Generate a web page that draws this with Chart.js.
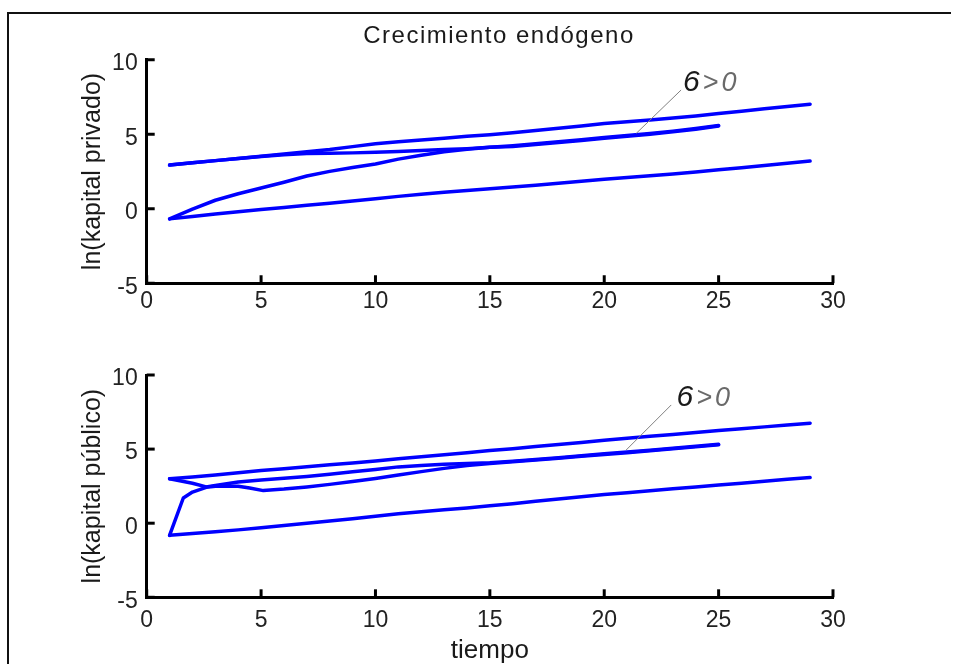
<!DOCTYPE html>
<html><head><meta charset="utf-8">
<script src="https://cdn.jsdelivr.net/npm/chart.js@4.4.1/dist/chart.umd.min.js"></script>
<style>
html,body{margin:0;padding:0;background:#fff;}
#wrap{position:relative;width:964px;height:664px;overflow:hidden;background:#fff;}
#frame{position:absolute;left:7px;top:12px;width:944px;height:700px;border-top:2px solid #111;border-left:2px solid #111;box-sizing:border-box;}
canvas{position:absolute;left:0;}
#c1{top:0}
#c2{top:332px}
</style></head><body>
<div id="wrap"><div id="frame"></div><canvas id="c1" width="964" height="332"></canvas><canvas id="c2" width="964" height="332"></canvas></div>
<script>
// ---- text ----
const figureTitle = 'Crecimiento endógeno';
const xAxisLabel = 'tiempo';
const yLabelTop = 'ln(kapital privado)';
const yLabelBottom = 'ln(kapital público)';
const annotationParts = ['6', '>0'];

// ---- axes ----
const xMin = 0, xMax = 30, xStep = 5;
const yMin = -5, yMax = 10, yStep = 5;

// ---- data: top panel (kapital privado) ----
const tA = [1,2,3,4,5,6,7,8,9,10,11,12,13,14,15,16,17,18,19,20,21,22,23,24,25,26,27,28,29];
const privA = [2.93,3.08,3.23,3.38,3.53,3.67,3.82,3.97,4.17,4.36,4.49,4.61,4.73,4.86,4.97,5.10,5.25,5.40,5.56,5.72,5.84,5.96,6.09,6.23,6.40,6.55,6.71,6.87,7.02];
const tB = [1,2,3,4,5,6,7,8,9,10,11,12,13,14,15,16,17,18,19,20,21,22,23,24,25];
const privB = [2.93,3.08,3.23,3.38,3.51,3.63,3.71,3.73,3.75,3.79,3.84,3.91,3.97,4.03,4.12,4.23,4.36,4.49,4.63,4.78,4.91,5.05,5.21,5.39,5.59];
const tC = [1,2,3,4,5,6,7,8,9,10,11,12,13,14,15,16,17,18,19,20,21,22,23,24,25];
const privC = [-0.68,-0.02,0.57,1.01,1.39,1.78,2.20,2.51,2.77,3.00,3.33,3.59,3.82,3.99,4.12,4.18,4.31,4.44,4.58,4.73,4.86,5.00,5.16,5.34,5.55];
const tD = [1,2,3,4,5,6,7,8,9,10,11,12,13,14,15,16,17,18,19,20,21,22,23,24,25,26,27,28,29];
const privD = [-0.68,-0.52,-0.36,-0.20,-0.05,0.09,0.23,0.37,0.52,0.67,0.83,0.97,1.10,1.22,1.34,1.46,1.58,1.71,1.85,1.98,2.10,2.22,2.34,2.47,2.61,2.75,2.90,3.05,3.20];

// ---- data: bottom panel (kapital público) ----
const uA = [1,2,3,4,5,6,7,8,9,10,11,12,13,14,15,16,17,18,19,20,21,22,23,24,25,26,27,28,29];
const pubA = [3.00,3.12,3.25,3.40,3.55,3.68,3.81,3.94,4.07,4.20,4.35,4.48,4.62,4.76,4.90,5.03,5.17,5.31,5.45,5.60,5.73,5.86,5.99,6.12,6.25,6.37,6.50,6.62,6.75];
const uB = [1,2,2.6,3,4,5,6,7,8,9,10,11,12,13,14,15,16,17,18,19,20,21,22,23,24,25];
const pubB = [3.00,2.70,2.45,2.55,2.78,2.92,3.03,3.15,3.30,3.47,3.63,3.80,3.90,3.97,4.02,4.08,4.18,4.30,4.42,4.55,4.68,4.80,4.93,5.06,5.19,5.32];
const uC = [1,1.6,2,2.6,3,4,4.5,5.1,6,7,8,9,10,11,12,13,14,15,16,17,18,19,20,21,22,23,24,25];
const pubC = [-0.82,1.70,2.10,2.42,2.50,2.50,2.38,2.20,2.30,2.45,2.62,2.82,3.02,3.25,3.48,3.70,3.90,4.03,4.14,4.26,4.38,4.51,4.64,4.76,4.89,5.02,5.15,5.29];
const uD = [1,2,3,4,5,6,7,8,9,10,11,12,13,14,15,16,17,18,19,20,21,22,23,24,25,26,27,28,29];
const pubD = [-0.82,-0.70,-0.58,-0.45,-0.30,-0.15,0.00,0.15,0.30,0.47,0.63,0.78,0.90,1.02,1.17,1.32,1.48,1.63,1.78,1.93,2.06,2.19,2.32,2.45,2.58,2.70,2.83,2.96,3.08];

// ---- annotation anchors (data coordinates) ----
const annotTop = {text:[23.44, 8.47], from:[23.36, 7.97], to:[21.4, 5.06]};
const annotBottom = {text:[23.16, 8.48], from:[22.93, 7.98], to:[20.96, 4.94]};

const FONT = "'Liberation Sans', Arial, Helvetica, sans-serif";
const LINE_BLUE = '#0000ff';
const pts = (xs, ys) => xs.map((v, i) => ({x: v, y: ys[i]}));
const ds = (xs, ys) => ({data: pts(xs, ys), showLine: true, borderColor: LINE_BLUE, backgroundColor: LINE_BLUE, borderWidth: 3.5, pointRadius: 0, tension: 0, fill: false, borderJoinStyle: 'round', borderCapStyle: 'round'});

const inwardTicks = {
  id: 'inwardTicks',
  afterDraw(chart) {
    const {ctx, chartArea: a, scales: {x, y}} = chart;
    ctx.save();
    ctx.strokeStyle = '#000'; ctx.lineWidth = 3; ctx.lineCap = 'butt';
    x.ticks.forEach(t => { const px = x.getPixelForValue(t.value); ctx.beginPath(); ctx.moveTo(px, a.bottom); ctx.lineTo(px, a.bottom - 8); ctx.stroke(); });
    y.ticks.forEach(t => { const py = y.getPixelForValue(t.value); ctx.beginPath(); ctx.moveTo(a.left, py); ctx.lineTo(a.left + 8, py); ctx.stroke(); });
    ctx.restore();
  }
};

const annotate = {
  id: 'annotate',
  afterDatasetsDraw(chart, args, opts) {
    if (!opts || !opts.text) return;
    const {ctx, scales: {x, y}} = chart;
    ctx.save();
    ctx.strokeStyle = '#808080'; ctx.lineWidth = 1;
    ctx.beginPath();
    ctx.moveTo(x.getPixelForValue(opts.from[0]), y.getPixelForValue(opts.from[1]));
    ctx.lineTo(x.getPixelForValue(opts.to[0]), y.getPixelForValue(opts.to[1]));
    ctx.stroke();
    const tx = x.getPixelForValue(opts.text[0]), ty = y.getPixelForValue(opts.text[1]);
    ctx.textBaseline = 'middle'; ctx.textAlign = 'left';
    ctx.font = 'italic 30px ' + FONT; ctx.fillStyle = '#1a1a1a';
    ctx.fillText(opts.parts[0], tx, ty);
    const w = ctx.measureText(opts.parts[0]).width;
    ctx.font = 'italic 27px ' + FONT; ctx.fillStyle = '#6a6a6a';
    ctx.letterSpacing = '3px';
    ctx.fillText(opts.parts[1], tx + w + 3, ty + 1);
    ctx.restore();
  }
};

const figTitle = {
  id: 'figTitle',
  afterDraw(chart, args, opts) {
    if (!opts || !opts.text) return;
    const ctx = chart.ctx;
    ctx.save();
    ctx.font = '24px ' + FONT; ctx.fillStyle = '#1a1a1a';
    ctx.textAlign = 'center'; ctx.textBaseline = 'alphabetic';
    ctx.letterSpacing = '1.5px';
    ctx.fillText(opts.text, 499, 43);
    ctx.restore();
  }
};

function makeChart(id, datasets, cfg) {
  return new Chart(document.getElementById(id), {
    type: 'scatter',
    data: {datasets},
    plugins: [inwardTicks, annotate, figTitle],
    options: {
      responsive: false, animation: false, devicePixelRatio: 1,
      layout: {padding: {left: 0, right: 131, top: cfg.top, bottom: 0}},
      plugins: {legend: {display: false}, tooltip: {enabled: false}, annotate: cfg.annot, figTitle: {text: cfg.title || ''}},
      scales: {
        x: {
          type: 'linear', position: 'bottom', min: xMin, max: xMax,
          ticks: {stepSize: xStep, color: '#222', font: {family: FONT, size: 23}, padding: cfg.xPad, maxRotation: 0, autoSkip: false},
          grid: {display: false, drawTicks: false},
          border: {display: true, color: '#000', width: 3},
          title: {display: !!cfg.xTitle, text: cfg.xTitle || '', color: '#1a1a1a', font: {family: FONT, size: 26, lineHeight: 1}, padding: {top: 0, bottom: 0}},
          afterFit(s) { s.height = cfg.xH; }
        },
        y: {
          type: 'linear', position: 'left', min: yMin, max: yMax,
          ticks: {stepSize: yStep, color: '#222', font: {family: FONT, size: 23}, padding: 9, labelOffset: 4},
          grid: {display: false, drawTicks: false},
          border: {display: true, color: '#000', width: 3},
          title: {display: true, text: cfg.yTitle, color: '#1a1a1a', font: {family: FONT, size: 25, lineHeight: 1}, padding: {top: 81, bottom: 0}},
          afterFit(s) { s.width = 146.7; }
        }
      }
    }
  });
}

makeChart('c1', [ds(tA, privA), ds(tB, privB), ds(tC, privC), ds(tD, privD)], {
  top: 59.75, xH: 48.75, xPad: 5, yTitle: yLabelTop, title: figureTitle,
  annot: {parts: annotationParts, text: annotTop.text, from: annotTop.from, to: annotTop.to}
});
makeChart('c2', [ds(uA, pubA), ds(uB, pubB), ds(uC, pubC), ds(uD, pubD)], {
  top: 43, xH: 66.7, xPad: 10, yTitle: yLabelBottom, xTitle: xAxisLabel,
  annot: {parts: annotationParts, text: annotBottom.text, from: annotBottom.from, to: annotBottom.to}
});
</script>
</body></html>
